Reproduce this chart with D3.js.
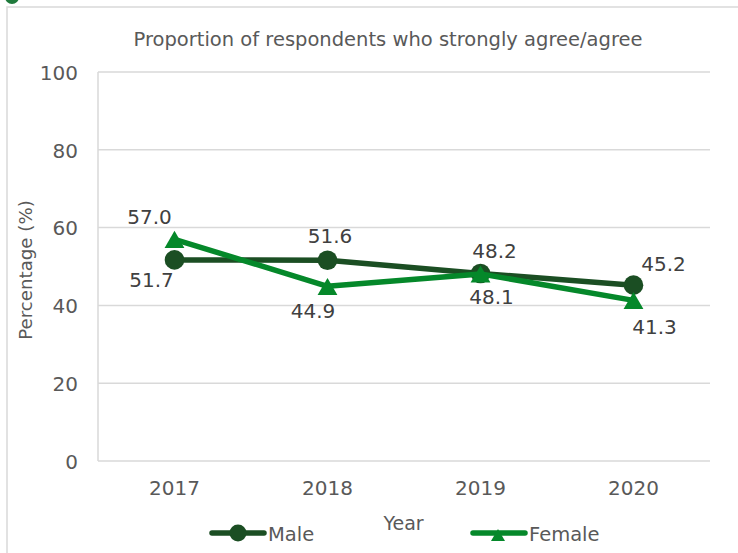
<!DOCTYPE html>
<html>
<head>
<meta charset="utf-8">
<script src="https://cdn.jsdelivr.net/npm/d3@7"></script>
<style>
  html, body { margin: 0; padding: 0; background: #fff; }
  svg text { font-family: "DejaVu Sans", sans-serif; }
</style>
</head>
<body>
<svg id="chart" width="738" height="553"></svg>
<script>
const years = ["2017", "2018", "2019", "2020"];
const maleValues = [51.7, 51.6, 48.2, 45.2];
const femaleValues = [57.0, 44.9, 48.1, 41.3];
const yTicks = [0, 20, 40, 60, 80, 100];

// label placement per point: [dx, dy] from the marker to the label centre
const maleLabelOffsets = [[-23, 20], [2.5, -24], [14, -22.5], [30, -21]];
const femaleLabelOffsets = [[-25, -22], [-14.5, 24], [11, 22.5], [21, 26]];

const svg = d3.select("#chart");
const W = 738, H = 553;
const margin = { left: 98, right: 28, top: 72, bottom: 92 };

const maleColor = "#1b4e23";
const femaleColor = "#05882a";

// outer frame and corner marker
svg.append("rect").attr("x", 7).attr("y", 7).attr("width", 760).attr("height", 600)
  .attr("fill", "#fff").attr("stroke", "#d9d9d9").attr("stroke-width", 1.5);
svg.append("circle").attr("cx", 12).attr("cy", -3).attr("r", 7).attr("fill", "#1f7a3c");

const x = d3.scaleBand().domain(years).range([margin.left, W - margin.right]);
const y = d3.scaleLinear().domain([0, 100]).range([H - margin.bottom, margin.top]);

// gridlines
svg.append("g").selectAll("line").data(yTicks).join("line")
  .attr("x1", margin.left).attr("x2", W - margin.right)
  .attr("y1", d => y(d)).attr("y2", d => y(d))
  .attr("stroke", "#d9d9d9").attr("stroke-width", 1.5);
svg.append("line").attr("x1", margin.left).attr("x2", margin.left)
  .attr("y1", y(100)).attr("y2", y(0)).attr("stroke", "#d9d9d9").attr("stroke-width", 1.5);

// y axis
const yAxis = svg.append("g").attr("transform", `translate(${margin.left - 20},0)`)
  .call(d3.axisLeft(y).tickValues(yTicks).tickSize(0).tickPadding(0));
yAxis.select(".domain").remove();
yAxis.selectAll("text").attr("font-size", 20).attr("fill", "#595959")
  .attr("dy", "0.36em").attr("font-family", "DejaVu Sans, sans-serif");

// x axis
const xAxis = svg.append("g").attr("transform", `translate(0,${y(0) + 27})`)
  .call(d3.axisBottom(x).tickSize(0).tickPadding(0));
xAxis.select(".domain").remove();
xAxis.selectAll("text").attr("font-size", 20).attr("fill", "#595959")
  .attr("y", 0).attr("dy", "0.36em").attr("font-family", "DejaVu Sans, sans-serif");

// titles
svg.append("text").attr("x", 388).attr("y", 46).attr("text-anchor", "middle")
  .attr("font-size", 19.5).attr("fill", "#595959")
  .text("Proportion of respondents who strongly agree/agree");
svg.append("text").attr("transform", "translate(32,270) rotate(-90)")
  .attr("text-anchor", "middle").attr("font-size", 18.2).attr("fill", "#595959")
  .text("Percentage (%)");
svg.append("text").attr("x", 403.5).attr("y", 530).attr("text-anchor", "middle")
  .attr("font-size", 19).attr("fill", "#595959").text("Year");

const cx = d => x(d) + x.bandwidth() / 2;
const line = d3.line().x(d => cx(d.year)).y(d => y(d.value));

const male = years.map((yr, i) => ({ year: yr, value: maleValues[i] }));
const female = years.map((yr, i) => ({ year: yr, value: femaleValues[i] }));

const tri = d3.symbol().type(d3.symbolTriangle).size(170);

// male series
svg.append("path").datum(male).attr("d", line).attr("fill", "none")
  .attr("stroke", maleColor).attr("stroke-width", 5.5).attr("stroke-linejoin", "round");
svg.append("g").selectAll("circle").data(male).join("circle")
  .attr("cx", d => cx(d.year)).attr("cy", d => y(d.value)).attr("r", 9.8)
  .attr("fill", maleColor);

// female series
svg.append("path").datum(female).attr("d", line).attr("fill", "none")
  .attr("stroke", femaleColor).attr("stroke-width", 5.5).attr("stroke-linejoin", "round");
svg.append("g").selectAll("path").data(female).join("path")
  .attr("d", tri)
  .attr("transform", d => `translate(${cx(d.year)},${y(d.value) + 3})`)
  .attr("fill", femaleColor);

// data labels
const labelGroup = svg.append("g").attr("font-size", 20).attr("fill", "#404040")
  .attr("text-anchor", "middle");
labelGroup.selectAll(".ml").data(male).join("text").attr("class", "ml")
  .attr("x", (d, i) => cx(d.year) + maleLabelOffsets[i][0])
  .attr("y", (d, i) => y(d.value) + maleLabelOffsets[i][1])
  .attr("dy", "0.36em")
  .text(d => d.value.toFixed(1));
labelGroup.selectAll(".fl").data(female).join("text").attr("class", "fl")
  .attr("x", (d, i) => cx(d.year) + femaleLabelOffsets[i][0])
  .attr("y", (d, i) => y(d.value) + femaleLabelOffsets[i][1])
  .attr("dy", "0.36em")
  .text(d => d.value.toFixed(1));

// legend
const legend = [
  { name: "Male", color: maleColor, x: 210, kind: "circle" },
  { name: "Female", color: femaleColor, x: 471, kind: "triangle" }
];
const lg = svg.append("g").selectAll("g").data(legend).join("g")
  .attr("transform", d => `translate(${d.x},533)`);
lg.append("line").attr("x1", 2).attr("x2", 54).attr("y1", 0).attr("y2", 0)
  .attr("stroke", d => d.color).attr("stroke-width", 5.5).attr("stroke-linecap", "round");
lg.filter(d => d.kind === "circle").append("circle").attr("cx", 28).attr("r", 8.5)
  .attr("fill", d => d.color);
lg.filter(d => d.kind === "triangle").append("path")
  .attr("d", d3.symbol().type(d3.symbolTriangle).size(85))
  .attr("transform", "translate(27,4)").attr("fill", d => d.color);
lg.append("text").attr("x", 58).attr("y", 8).attr("font-size", 19.5)
  .attr("fill", "#595959").text(d => d.name);
</script>
</body>
</html>
